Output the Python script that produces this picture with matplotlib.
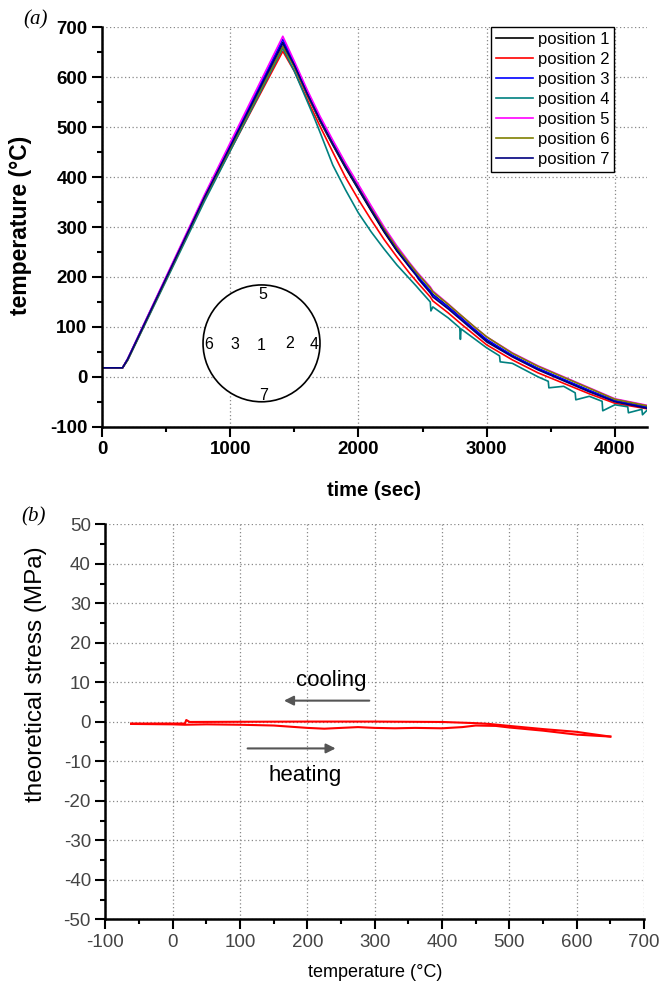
import matplotlib
matplotlib.use('Agg')
import matplotlib.pyplot as plt
from matplotlib.patches import Ellipse
from matplotlib.ticker import MultipleLocator

plt.rcParams['font.family'] = ['Liberation Sans', 'DejaVu Sans']
plt.rcParams['axes.unicode_minus'] = False

# ---- panel (a): thermocouple temperatures vs time ----
t_sec = [0, 160, 200, 800, 1410,
         1500, 1600, 1700, 1800, 1900,
         2000, 2100, 2200, 2300, 2400,
         2450, 2470, 2560, 2580, 2700,
         2800, 2900, 3000, 3200, 3400,
         3600, 3800, 4000, 4250]

pos1 = [18, 18, 35, 360, 670, 622, 565, 512, 464, 418, 375, 332, 290, 252, 220,
        205, 198, 172, 165, 140, 118, 95, 73, 42, 16, -6, -28, -48, -60]
pos2 = [18, 18, 34, 356, 652, 612, 556, 502, 450, 399, 355, 314, 275, 240, 207,
        192, 186, 160, 152, 128, 106, 85, 64, 34, 8, -13, -34, -53, -64]
pos3 = [18, 18, 36, 362, 676, 628, 570, 517, 469, 423, 380, 337, 295, 256, 222,
        206, 199, 172, 164, 140, 118, 96, 75, 43, 17, -5, -27, -48, -61]
pos5 = [18, 18, 36, 365, 682, 632, 575, 522, 474, 428, 385, 342, 300, 262, 228,
        212, 206, 180, 172, 146, 123, 101, 80, 48, 22, 0, -22, -44, -57]
pos6 = [18, 18, 34, 358, 662, 620, 565, 513, 466, 421, 378, 336, 296, 258, 226,
        210, 204, 178, 170, 145, 123, 101, 80, 47, 21, -1, -23, -45, -58]
pos7 = [18, 18, 35, 360, 668, 624, 567, 514, 466, 420, 377, 334, 292, 253, 219,
        203, 195, 168, 160, 136, 114, 92, 70, 40, 14, -8, -30, -50, -63]

# position 4 is noisier, own sampling
pos4_t = [0, 160, 200, 800, 1410,
          1500, 1600, 1650, 1700, 1800,
          1900, 2000, 2100, 2200, 2300,
          2400, 2450, 2470, 2560, 2565,
          2580, 2700, 2790, 2795, 2800,
          2900, 3000, 3100, 3105, 3200,
          3400, 3480, 3485, 3600, 3690,
          3695, 3800, 3900, 3905, 4000,
          4100, 4105, 4210, 4215, 4250]
pos4 = [18, 18, 33, 352, 658,
        612, 552, 522, 490, 424,
        374, 328, 290, 256, 224,
        196, 182, 176, 150, 132,
        140, 118, 98, 75, 96,
        77, 58, 42, 30, 27,
        0, -9, -22, -19, -32,
        -46, -39, -49, -68, -56,
        -60, -72, -65, -76, -67]

series = [("position 1", t_sec, pos1, "black"),
          ("position 2", t_sec, pos2, "#ff0000"),
          ("position 3", t_sec, pos3, "#0000ff"),
          ("position 4", pos4_t, pos4, "#008080"),
          ("position 5", t_sec, pos5, "#ff00ff"),
          ("position 6", t_sec, pos6, "#808000"),
          ("position 7", t_sec, pos7, "#000080")]

# thermocouple layout inside the disc (label, time-x, temp-y)
tc_labels = ["5", "6", "3", "1", "2", "4", "7"]
tc_x = [1255, 831, 1039, 1242, 1460, 1655, 1260]
tc_y = [164, 64, 64, 62, 66, 64, -38]

# ---- panel (b): theoretical stress vs temperature ----
heat_T = [-62, 0, 18, 50, 100, 150, 175, 200, 225, 250, 275, 300, 330, 360,
          400, 430, 450, 480, 500, 550, 600, 650]
heat_S = [-0.5, -0.6, -0.7, -0.6, -0.7, -0.9, -1.2, -1.5, -1.7, -1.5, -1.3,
          -1.5, -1.6, -1.5, -1.6, -1.3, -0.9, -1.0, -1.4, -2.2, -3.2, -3.7]
cool_T = [650, 620, 600, 550, 500, 470, 450, 400, 300, 200, 100, 25, 20, 18,
          10, -62]
cool_S = [-3.7, -3.0, -2.5, -1.8, -1.0, -0.5, -0.3, 0.0, 0.1, 0.1, 0.05, 0.0,
          0.5, -0.4, -0.4, -0.4]

fig = plt.figure(figsize=(6.61, 9.89), dpi=100)
ax1 = fig.add_axes([0.1543, 0.5685, 0.8245, 0.4039])
ax2 = fig.add_axes([0.1596, 0.0703, 0.8147, 0.3994])

for ax in (ax1, ax2):
    ax.spines['top'].set_visible(False)
    ax.spines['right'].set_visible(False)
    for s in ('left', 'bottom'):
        ax.spines[s].set_linewidth(1.8)
    ax.grid(True, which='major', linestyle=(0, (1, 2)), color='#888888',
            linewidth=0.9)
    ax.set_axisbelow(True)
    ax.tick_params(which='major', direction='out', length=7, width=1.5)
    ax.tick_params(which='minor', direction='out', length=3.5, width=1.5)

# panel a
for lab, tx, ty, col in series:
    ax1.plot(tx, ty, color=col, lw=1.2, label=lab)

ax1.set_xlim(0, 4250)
ax1.set_ylim(-100, 700)
ax1.xaxis.set_major_locator(MultipleLocator(1000))
ax1.xaxis.set_minor_locator(MultipleLocator(500))
ax1.yaxis.set_major_locator(MultipleLocator(100))
ax1.yaxis.set_minor_locator(MultipleLocator(50))
for lbl in ax1.get_xticklabels() + ax1.get_yticklabels():
    lbl.set_fontweight('bold')
    lbl.set_fontsize(13.5)
ax1.set_xlabel('time (sec)', fontsize=14.5, fontweight='bold', labelpad=16)
ax1.set_ylabel('temperature (°C)', fontsize=16.5, fontweight='bold')
ax1.yaxis.set_label_coords(-0.128, 0.505)

disc = Ellipse((1244, 67), 912, 234, facecolor='white', edgecolor='black',
               lw=1.2, zorder=2)
ax1.add_patch(disc)
for s, x, y in zip(tc_labels, tc_x, tc_y):
    ax1.text(x, y, s, fontsize=11.5, ha='center', va='center', zorder=3)

leg = ax1.legend(loc='upper right', bbox_to_anchor=(0.94, 1.0),
                 borderaxespad=0, fontsize=12, handlelength=2.2,
                 handletextpad=0.3, labelspacing=0.3, borderpad=0.3,
                 fancybox=False, framealpha=1, edgecolor='black')
leg.get_frame().set_linewidth(1.0)

# panel b
ax2.plot(heat_T, heat_S, color='red', lw=1.5)
ax2.plot(cool_T, cool_S, color='red', lw=1.5)
ax2.set_xlim(-100, 700)
ax2.set_ylim(-50, 50)
ax2.xaxis.set_major_locator(MultipleLocator(100))
ax2.xaxis.set_minor_locator(MultipleLocator(50))
ax2.yaxis.set_major_locator(MultipleLocator(10))
ax2.yaxis.set_minor_locator(MultipleLocator(5))
ax2.tick_params(labelsize=13.5, labelcolor='#444444')
ax2.set_xlabel('temperature (°C)', fontsize=13, labelpad=9)
ax2.set_ylabel('theoretical stress (MPa)', fontsize=17.5)
ax2.yaxis.set_label_coords(-0.108, 0.62)

ax2.annotate('', xy=(161, 5.4), xytext=(296, 5.4),
             arrowprops=dict(arrowstyle='-|>', color='#555555', lw=1.5,
                             mutation_scale=14))
ax2.annotate('', xy=(246, -6.7), xytext=(107, -6.7),
             arrowprops=dict(arrowstyle='-|>', color='#555555', lw=1.5,
                             mutation_scale=14))
ax2.text(235, 10.6, 'cooling', fontsize=16, ha='center', va='center')
ax2.text(196, -13.6, 'heating', fontsize=16, ha='center', va='center')

fig.text(0.053, 0.98, '(a)', fontsize=15, style='italic',
         family='Liberation Serif', ha='center', va='center')
fig.text(0.051, 0.477, '(b)', fontsize=15, style='italic',
         family='Liberation Serif', ha='center', va='center')

fig.savefig('out.png', dpi=100)
